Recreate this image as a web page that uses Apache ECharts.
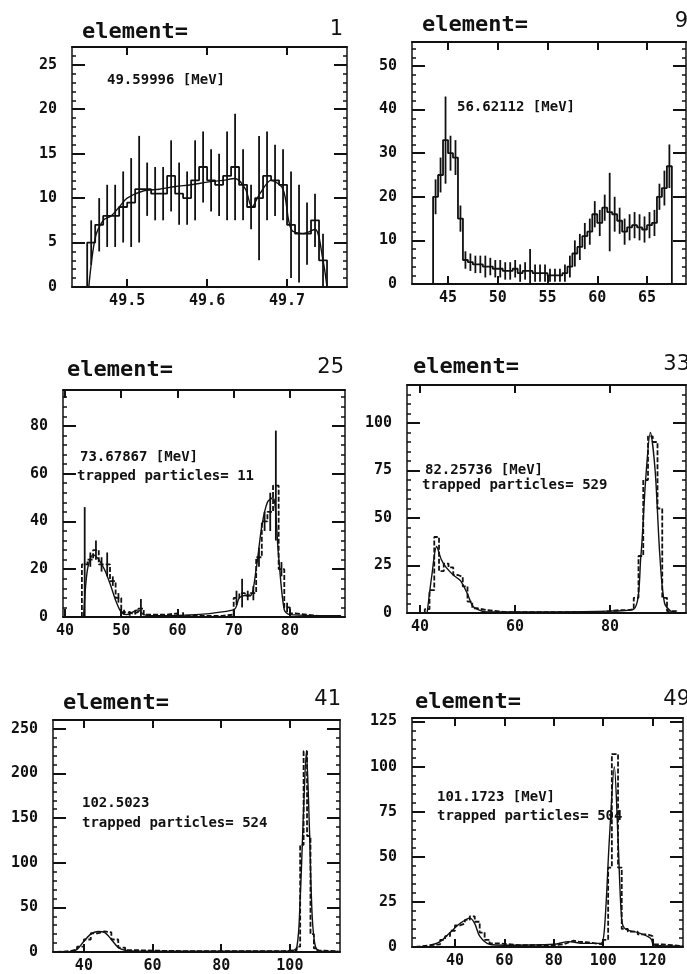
<!doctype html>
<html lang="en">
<head>
<meta charset="UTF-8" />
<title>element spectra</title>
<style>
  html, body { margin: 0; padding: 0; background: #fff; }
  #chart { width: 687px; height: 974px; }
</style>
</head>
<body>
<div id="chart"></div>
<script src="https://cdn.jsdelivr.net/npm/echarts@6.0.0/dist/echarts.min.js"></script>
<script>
// values (bin edges, counts, error half-lengths, fit curves)
const p1Edges = [49.45, 49.46, 49.47, 49.48, 49.49, 49.5, 49.51, 49.52, 49.53, 49.54, 49.55, 49.56, 49.57, 49.58, 49.59, 49.6, 49.61, 49.62, 49.63, 49.64, 49.65, 49.66, 49.67, 49.68, 49.69, 49.7, 49.71, 49.72, 49.73, 49.74, 49.75]
const p1Counts = [5, 7, 8, 8, 9, 9.5, 11, 11, 10.5, 10.5, 12.5, 10.5, 10, 12, 13.5, 12, 11.5, 12.5, 13.5, 11.5, 9, 10, 12.5, 12, 11.5, 7, 6, 6, 7.5, 3]
const p1Err = [2.5, 3, 3.5, 3.5, 4, 5, 6, 3, 3, 3, 4, 3.5, 3, 4.5, 4, 3.5, 3.5, 5, 6, 4, 2.5, 7, 5, 4, 4, 6, 5.5, 3.5, 3, 3]
const p1FitX = [49.452, 49.46, 49.47, 49.48, 49.49, 49.5, 49.52, 49.54, 49.56, 49.58, 49.6, 49.62, 49.635, 49.648, 49.656, 49.666, 49.68, 49.695, 49.705, 49.72, 49.735, 49.745, 49.75]
const p1FitY = [0, 5.5, 7.5, 8, 9, 10, 10.8, 11, 11.3, 11.5, 11.8, 12, 12.2, 11, 9, 10.5, 12, 11, 6.5, 6, 6.5, 3, 0]

const p2Edges = [43.5, 44, 44.5, 45, 45.5, 46, 46.5, 47, 47.5, 48, 48.5, 49, 49.5, 50, 50.5, 51, 51.5, 52, 52.5, 53, 53.5, 54, 54.5, 55, 55.5, 56, 56.5, 57, 57.5, 58, 58.5, 59, 59.5, 60, 60.5, 61, 61.5, 62, 62.5, 63, 63.5, 64, 64.5, 65, 65.5, 66, 66.5, 67, 67.5]
const p2Counts = [20, 25, 33, 30, 29, 15, 5.5, 5, 4.5, 4.5, 4, 4, 3.5, 3.5, 3, 3, 3.5, 2.5, 3, 3, 2.5, 2.5, 2.5, 2, 2, 2, 2.5, 4, 7, 8.5, 11, 12, 16, 14, 17.5, 16.5, 16, 14.5, 12, 13, 13.5, 13, 12.5, 13.5, 14, 20, 22, 27]
const p2Err = [4, 4, 10, 4, 4, 3, 2, 2, 2, 2, 2.5, 2, 2, 2, 2, 2, 2, 2, 2, 5, 2, 2, 2, 1.5, 1.5, 1.5, 2, 2.5, 3, 3, 3, 3, 3, 3, 3, 9, 4, 3, 3, 3, 3, 3, 3, 3, 3, 3, 4, 5]

const p3Edges = [43, 44, 45, 46, 47, 48, 49, 50, 51, 52, 53, 54, 56, 58, 60, 62, 64, 66, 68, 70, 71, 72, 73, 74, 75, 76, 77, 78, 79, 80, 81, 83, 85, 87, 89]
const p3Counts = [22, 24, 28, 22, 22, 15, 8, 2, 1.5, 2, 3.5, 1, 1, 1.5, 0.5, 0.5, 0.5, 0.5, 1, 8, 10, 9, 10, 25, 40, 44, 55, 20, 4, 1.5, 1, 0.5, 0.5, 0.5]
const p3Err = [24, 3, 4, 3, 5, 2, 2, 1, 1, 1, 4, 0, 0, 0, 1.5, 0, 0, 0, 0, 3, 6, 2, 3, 4, 4, 8, 23, 3, 2, 0, 0, 0, 0, 0]
const p3FitX = [43.3, 44, 45, 46, 47, 48, 49, 50, 51, 53, 54, 56, 70, 71, 72, 73, 74, 75, 76, 77, 78, 79, 80, 89]
const p3FitY = [0, 20, 26, 24, 20, 14, 7, 2, 1, 3, 1, 0.5, 3, 8, 9, 9, 20, 38, 48, 50, 25, 3, 1, 0.5]

const p4Edges = [41, 42, 43, 44, 45, 46, 47, 48, 49, 50, 51, 52, 54, 58, 62, 66, 70, 74, 78, 80, 82, 84, 85, 86, 87, 88, 89, 90, 91, 92, 94]
const p4Counts = [2, 12, 40, 22, 26, 24, 20, 19, 14, 6, 2.5, 1.5, 0.5, 0.5, 0.5, 0.5, 0.5, 0.5, 1, 1.5, 1.5, 2, 8, 30, 70, 93, 90, 55, 8, 1]
const p4FitX = [41.5, 42.5, 43.5, 44.5, 45.5, 47, 48.5, 50, 51, 52, 54, 80, 85, 86.5, 87.5, 88.5, 89.5, 90.5, 91.5, 93]
const p4FitY = [0, 20, 35, 28, 24, 20, 17, 10, 4, 2, 0.5, 1, 2, 30, 70, 95, 75, 30, 5, 0.5]

const p5Edges = [32, 36, 38, 40, 42, 44, 46, 48, 50, 52, 56, 60, 70, 80, 90, 98, 100, 102, 103, 104, 105, 106, 107, 108, 110, 114]
const p5Counts = [1, 3, 6, 14, 21, 23, 22, 14, 5, 2, 1.5, 1, 1, 1, 1, 1.5, 2, 6, 120, 225, 130, 20, 4, 1.5, 1]
const p5FitX = [36, 38, 40, 42, 44, 46, 48, 50, 52, 56, 100, 102, 103, 104, 104.8, 105.6, 106.5, 107.5, 109, 114]
const p5FitY = [0, 3, 12, 20, 23, 22, 14, 5, 2, 1, 1, 5, 60, 160, 225, 150, 40, 5, 1, 0.5]

const p6Edges = [24, 30, 34, 36, 38, 40, 42, 44, 46, 48, 50, 52, 54, 58, 66, 74, 80, 84, 86, 88, 90, 94, 100, 102, 103.5, 106, 107.5, 110, 114, 118, 120, 124, 132]
const p6Counts = [1, 1.5, 4, 6, 9, 12, 13, 15, 17, 14, 8, 4, 2, 1, 1, 1, 1.5, 2.5, 3.5, 3, 2.5, 1.5, 4, 44, 107, 44, 10, 8.5, 7, 6, 1.5, 0.5]
const p6FitX = [30, 34, 38, 42, 46, 48, 50, 54, 60, 80, 86, 92, 99, 100.5, 102.5, 104.5, 106, 107.5, 109, 114, 119, 121, 132]
const p6FitY = [1, 3, 8, 13, 16, 13, 6, 1.5, 1, 1.5, 3, 2, 2, 10, 60, 100, 60, 15, 10, 8, 5, 1, 0.5]

// tick labels
const p1XTicks = [49.5, 49.6, 49.7]
const p2XTicks = [45, 50, 55, 60, 65]
const p3XTicks = [40, 50, 60, 70, 80]
const p4XTicks = [40, 60, 80]
const p5XTicks = [40, 60, 80, 100]
const p6XTicks = [40, 60, 80, 100, 120]

const ink = '#111'
const mono = "'DejaVu Sans Mono', monospace"

// box = [left, top, right, bottom] in px
const panels = [
  { box: [72, 47, 347, 287], x: [49.431, 49.775], ymax: 27, step: 5, ticks: p1XTicks, digits: 1,
    edges: p1Edges, counts: p1Counts, err: p1Err, fitX: p1FitX, fitY: p1FitY, dashed: false,
    num: '1', head: [82, 32], numPos: [343, 30], notes: [['49.59996 [MeV]', 107, 80]] },
  { box: [412, 42, 686, 284], x: [41.38, 68.92], ymax: 55.5, step: 10, ticks: p2XTicks, digits: 0,
    edges: p2Edges, counts: p2Counts, err: p2Err, dashed: false,
    num: '9', head: [422, 25], numPos: [688, 22], notes: [['56.62112 [MeV]', 457, 107]] },
  { box: [63, 390, 345, 617], x: [39.64, 89.8], ymax: 95, step: 20, ticks: p3XTicks, digits: 0,
    edges: p3Edges, counts: p3Counts, err: p3Err, fitX: p3FitX, fitY: p3FitY, dashed: true,
    num: '25', head: [67, 370], numPos: [344, 368],
    notes: [['73.67867 [MeV]', 80, 457], ['trapped particles= 11', 77, 476]] },
  { box: [407, 385, 686, 613], x: [37.26, 96], ymax: 120, step: 25, ticks: p4XTicks, digits: 0,
    edges: p4Edges, counts: p4Counts, fitX: p4FitX, fitY: p4FitY, dashed: true,
    num: '33', head: [413, 367], numPos: [690, 365],
    notes: [['82.25736 [MeV]', 425, 470], ['trapped particles= 529', 422, 485]] },
  { box: [53, 720, 340, 952], x: [31, 114.6], ymax: 260, step: 50, ticks: p5XTicks, digits: 0,
    edges: p5Edges, counts: p5Counts, fitX: p5FitX, fitY: p5FitY, dashed: true,
    num: '41', head: [63, 703], numPos: [341, 700],
    notes: [['102.5023', 82, 803], ['trapped particles= 524', 82, 823]] },
  { box: [412, 718, 683, 947], x: [22.6, 132.3], ymax: 127, step: 25, ticks: p6XTicks, digits: 0,
    edges: p6Edges, counts: p6Counts, fitX: p6FitX, fitY: p6FitY, dashed: true,
    num: '49', head: [415, 702], numPos: [690, 700],
    notes: [['101.1723 [MeV]', 437, 797], ['trapped particles= 504', 437, 816]] }
]

function stepData(edges, counts) {
  const d = [[edges[0], 0]]
  counts.forEach((c, i) => d.push([edges[i], c]))
  d.push([edges[edges.length - 1], 0])
  return d
}

function errBar(params, api) {
  const a = api.coord([api.value(0), api.value(1)])
  const b = api.coord([api.value(0), api.value(2)])
  return {
    type: 'line',
    shape: { x1: a[0], y1: a[1], x2: b[0], y2: b[1] },
    style: { stroke: ink, lineWidth: 1.8 }
  }
}

const grid = [], xAxis = [], yAxis = [], series = [], graphic = []

function text(str, x, y, font, align) {
  graphic.push({
    type: 'text', x: x, y: y, silent: true,
    style: { text: str, font: font, fill: ink, align: align || 'left', verticalAlign: 'middle',
      textAlign: align || 'left', textVerticalAlign: 'middle' }
  })
}

panels.forEach((p, i) => {
  const [l, t, r, b] = p.box
  grid.push({ left: l, top: t, width: r - l, height: b - t, outerBoundsMode: 'none', containLabel: false })

  const xBase = {
    gridIndex: i, type: 'value', min: p.x[0], max: p.x[1],
    axisLine: { onZero: false, lineStyle: { color: ink, width: 2 } },
    axisTick: { inside: true, length: 8, customValues: p.ticks, lineStyle: { color: ink, width: 2 } },
    splitLine: { show: false }
  }
  xAxis.push(Object.assign({}, xBase, {
    position: 'bottom',
    axisLabel: {
      customValues: p.ticks, margin: 7, color: ink, fontFamily: mono, fontWeight: 'bold', fontSize: 15,
      formatter: v => v.toFixed(p.digits)
    }
  }))
  xAxis.push(Object.assign({}, xBase, { position: 'top', axisLabel: { show: false } }))

  const yBase = {
    gridIndex: i, type: 'value', min: 0, max: p.ymax, interval: p.step,
    axisLine: { onZero: false, lineStyle: { color: ink, width: 1.5 } },
    axisTick: { inside: true, length: 13, lineStyle: { color: ink, width: 2 } },
    minorTick: { show: true, splitNumber: 5, length: 4, lineStyle: { color: ink, width: 1.5 } },
    splitLine: { show: false }, minorSplitLine: { show: false }
  }
  yAxis.push(Object.assign({}, yBase, {
    position: 'left',
    axisLabel: { margin: 15, showMaxLabel: false, color: ink, fontFamily: mono, fontWeight: 'bold', fontSize: 15 }
  }))
  yAxis.push(Object.assign({}, yBase, { position: 'right', axisLabel: { show: false } }))

  const xi = i * 2, yi = i * 2
  series.push({
    type: 'line', step: 'end', xAxisIndex: xi, yAxisIndex: yi, showSymbol: false, silent: true,
    data: stepData(p.edges, p.counts),
    lineStyle: { color: ink, width: 1.8, type: p.dashed ? [5, 2] : 'solid' }
  })
  if (p.fitX) {
    series.push({
      type: 'line', smooth: 0.3, xAxisIndex: xi, yAxisIndex: yi, showSymbol: false, silent: true,
      data: p.fitX.map((x, k) => [x, p.fitY[k]]),
      lineStyle: { color: ink, width: 1.4 }
    })
  }
  if (p.err) {
    const data = []
    p.counts.forEach((c, k) => {
      if (p.err[k] > 0) {
        data.push([(p.edges[k] + p.edges[k + 1]) / 2, Math.max(0, c - p.err[k]), c + p.err[k]])
      }
    })
    series.push({
      type: 'custom', xAxisIndex: xi, yAxisIndex: yi, renderItem: errBar, silent: true, clip: true,
      encode: { x: 0, y: [1, 2] }, data: data
    })
  }

  text('element=', p.head[0], p.head[1], 'bold 22px ' + mono)
  text(p.num, p.numPos[0], p.numPos[1], '21px DejaVu Sans', 'right')
  p.notes.forEach(n => text(n[0], n[1], n[2], 'bold 14px ' + mono))
})

const myChart = echarts.init(document.getElementById('chart'), null, { renderer: 'canvas' })
myChart.setOption({
  animation: false,
  backgroundColor: '#fff',
  grid, xAxis, yAxis, series, graphic
})
</script>
</body>
</html>
